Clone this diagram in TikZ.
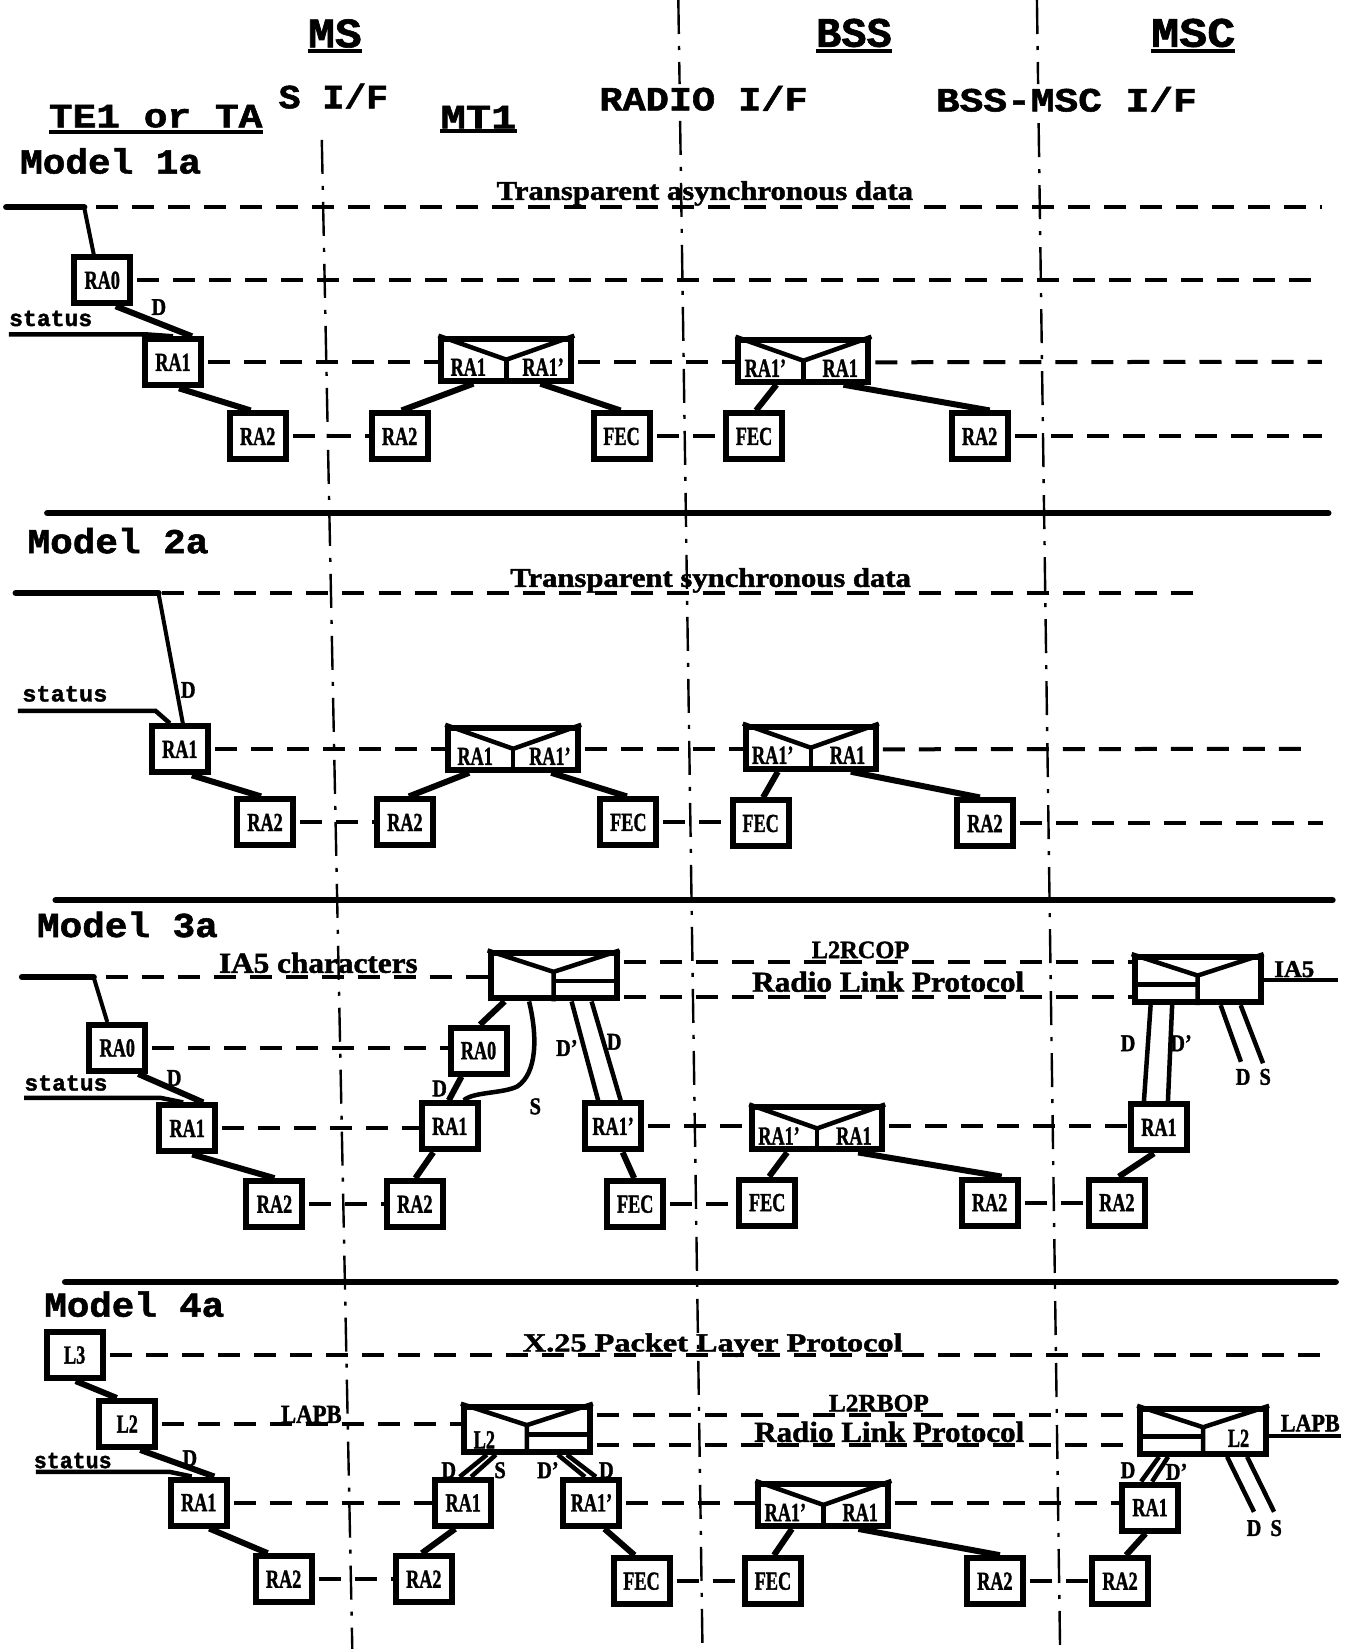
\documentclass[tikz,border=0pt]{standalone}
\usepackage{fontspec}
\usepackage{graphicx}
\setmainfont{Liberation Serif}[BoldFeatures={FakeBold=1.5}]
\newfontfamily\monof{Liberation Mono}[BoldFeatures={FakeBold=1.5}]
\usetikzlibrary{calc}
\newdimen\su \su=1.0516pt
\newcommand\mono[3]{\resizebox{#2\su}{\height}{\fontsize{#1}{#1}\selectfont\monof\bfseries #3}}
\newcommand\serb[3]{\resizebox{#2\su}{\height}{\fontsize{#1}{#1}\selectfont\bfseries #3}}
\newcommand\lbl[1]{\scalebox{0.7}[1]{\fontsize{26}{26}\selectfont\bfseries #1}}
\newcommand\sml[1]{\scalebox{0.85}[1]{\fontsize{24}{24}\selectfont\bfseries #1}}
\newcommand\bx[4]{\node[blk] (#1) at (#2,#3) {\lbl{#4}};}
\newcommand\mixb[5]{%
 \node[mbox] (#1) at (#2,#3) {};
 \draw[inl] (#1.north west) -- (#1.center) -- (#1.north east);
 \draw[inl] (#1.center) -- (#1.south);
 \node[anchor=base,inner sep=0pt] at ($(#1.south west)!0.22!(#1.south east)+(0,-7.5)$) {\lbl{#4}};
 \node[anchor=base,inner sep=0pt] at ($(#1.south west)!0.77!(#1.south east)+(0,-7.5)$) {\lbl{#5}};
}
\newcommand\topb[4]{%
 \node[tbox] (#1) at (#2,#3) {};
 \coordinate (#1v) at ($(#1.north)!0.42!(#1.south)$);
 \coordinate (#1h) at ($(#1.north)!0.6!(#1.south)$);
 \draw[inl] (#1.north west) -- (#1v) -- (#1.north east);
 \draw[inl] (#1v) -- (#1.south);
 \ifx r#4 \draw[inl] (#1h) -- (#1h -| #1.east); \else \draw[inl] (#1h) -- (#1h -| #1.west); \fi
}
\begin{document}
\begin{tikzpicture}[x=1.0516pt,y=-1.0516pt,
 blk/.style={draw,line width=6pt,minimum width=56pt,minimum height=46pt,inner sep=0pt,fill=white},
 mbox/.style={draw,line width=6pt,minimum width=130pt,minimum height=42pt,inner sep=0pt,fill=white},
 tbox/.style={draw,line width=6pt,minimum width=126pt,minimum height=45pt,inner sep=0pt,fill=white},
 inl/.style={line width=4.5pt},
 conn/.style={line width=6pt},
 wire/.style={line width=4.5pt},
 dsh/.style={line width=4pt,dash pattern=on 22pt off 14pt,dash phase=32pt},
 vl/.style={line width=2.4pt,dash pattern=on 34pt off 12pt on 4pt off 12pt},
 sep/.style={line width=6.5pt,line cap=round},
 ul/.style={line width=4pt},
 stl/.style={line width=4.5pt},
 tel/.style={line width=6.5pt,line cap=round},
 dl/.style={line width=4pt},
 lab/.style={inner sep=0pt}]
\fill[white] (0,0) rectangle (1278,1568);
\useasboundingbox (0,0) rectangle (1278,1568);

% interface lines
\draw[vl] (306,133) -- (335,1568);
\draw[vl] (645,0) -- (646.2,80);
\draw[vl] (646.7,115) -- (668,1568);
\draw[vl] (986,0) -- (987.1,80);
\draw[vl] (987.6,117) -- (1008,1568);

% separators
\draw[sep] (45,488) -- (1263,488);
\draw[sep] (53,856) -- (1267,856);
\draw[sep] (62,1219) -- (1270,1219);

% headings
\node[lab,anchor=base] (hms) at (318.5,45) {\mono{42}{51}{MS}};
\draw[ul] ([yshift=-4pt]hms.base west) -- ([yshift=-4pt]hms.base east);
\node[lab,anchor=base] (hbss) at (812,44.5) {\mono{42}{72}{BSS}};
\draw[ul] ([yshift=-4pt]hbss.base west) -- ([yshift=-4pt]hbss.base east);
\node[lab,anchor=base] (hmsc) at (1134.6,44.5) {\mono{42}{80}{MSC}};
\draw[ul] ([yshift=-4pt]hmsc.base west) -- ([yshift=-4pt]hmsc.base east);
\node[lab,anchor=base] (hsif) at (317,103) {\mono{34}{104}{S I/F}};
\node[lab,anchor=base] (hte) at (148,121) {\mono{34}{203}{TE1 or TA}};
\draw[ul] ([yshift=-5pt]hte.base west) -- ([yshift=-5pt]hte.base east);
\node[lab,anchor=base] (hmt) at (455,122) {\mono{34}{72}{MT1}};
\draw[ul] ([yshift=-3pt]hmt.base west) -- ([yshift=-3pt]hmt.base east);
\node[lab,anchor=base] (hrad) at (669,105) {\mono{34}{198}{RADIO I/F}};
\node[lab,anchor=base] (hbm) at (1014,106) {\mono{34}{248}{BSS-MSC I/F}};

\node[lab,anchor=base west] (m1) at (19,165) {\mono{35}{172}{Model 1a}};
\node[lab,anchor=base west] (m2) at (26,526) {\mono{35}{172}{Model 2a}};
\node[lab,anchor=base west] (m3) at (35,891) {\mono{35}{172}{Model 3a}};
\node[lab,anchor=base west] (m4) at (42,1252) {\mono{35}{171}{Model 4a}};

% ================= Model 1a =================
\bx{ra0a}{97.2}{266.5}{RA0}
\bx{ra1a}{164.5}{344.5}{RA1}
\bx{ra2a}{245}{415}{RA2}
\mixb{mxa}{481.5}{342}{RA1}{RA1'}
\bx{mra2a}{380}{415}{RA2}
\bx{mfeca}{591}{415}{FEC}
\mixb{bxa}{764}{343}{RA1'}{RA1}
\bx{bfeca}{717}{415}{FEC}
\bx{bra2a}{931.5}{415}{RA2}

\coordinate (t1a) at (6,197);
\coordinate (t1b) at (80,197);
\coordinate (s1a) at (8.5,318);
\coordinate (s1b) at (140,318);
\coordinate (e1A) at (1257,197);
\coordinate (e1B) at (1251,270);
\coordinate (e1C) at (1257,344);
\coordinate (e1D) at (1257,415);
\draw[tel] (t1a) -- (t1b);
\draw[dl] (t1b) -- ([xshift=-8.5pt]ra0a.north);
\draw[stl] (s1a) -- (s1b) -- (ra1a.north);
\draw[dsh,dash phase=24pt] (t1b) -- (e1A);
\draw[dsh] (ra0a.east) -- (ra0a.east -| e1B);
\draw[dsh] (ra1a.east) -- (ra1a.east -| mxa.west);
\draw[dsh] (mxa.east |- ra1a.east) -- (bxa.west |- ra1a.east);
\draw[dsh] (bxa.east |- ra1a.east) -- (e1C);
\draw[dsh] (ra2a.east) -- (mra2a.west);
\draw[dsh] (mfeca.east) -- (bfeca.west);
\draw[dsh] (bra2a.east) -- (e1D);
\draw[conn] ([xshift=13.5pt]ra0a.south) -- ([xshift=19pt]ra1a.north);
\draw[conn] ([xshift=6pt]ra1a.south) -- ([xshift=-7pt]ra2a.north);
\draw[conn] ([xshift=-33pt]mxa.south) -- ([xshift=2pt]mra2a.north);
\draw[conn] ([xshift=34pt]mxa.south) -- ([xshift=-1pt]mfeca.north);
\draw[conn] ([xshift=-27pt]bxa.south) -- ([xshift=2pt]bfeca.north);
\draw[conn] ([xshift=40pt]bxa.south) -- ([xshift=10pt]bra2a.north);
\node[lab,anchor=base west] (lt1) at (472,190) {\serb{27}{396}{Transparent asynchronous data}};
\node[lab] (d1a) at (151,292) {\sml{D}};
\node[lab,anchor=base west] (st1) at (8.5,310) {\mono{23}{79}{status}};

% ================= Model 2a =================
\bx{ra1b}{171}{712.5}{RA1}
\bx{ra2b}{252}{782}{RA2}
\mixb{mxb}{488}{712}{RA1}{RA1'}
\bx{mra2b}{385}{782}{RA2}
\bx{mfecb}{597.5}{782}{FEC}
\mixb{bxb}{771}{711}{RA1'}{RA1}
\bx{bfecb}{723.3}{783}{FEC}
\bx{bra2b}{936.5}{783}{RA2}

\coordinate (t2a) at (15,564);
\coordinate (t2b) at (150.7,564);
\coordinate (s2a) at (17,676);
\coordinate (s2b) at (148,676);
\coordinate (e2A) at (1144,564);
\coordinate (e2C) at (1249,712);
\coordinate (e2D) at (1258,783);
\draw[tel] (t2a) -- (t2b);
\draw[dl] (t2b) -- ([xshift=3pt]ra1b.north);
\draw[stl] (s2a) -- (s2b) -- ([xshift=-10pt]ra1b.north);
\draw[dsh] (t2b) -- (e2A);
\draw[dsh] (ra1b.east) -- (ra1b.east -| mxb.west);
\draw[dsh] (mxb.east |- ra1b.east) -- (bxb.west |- ra1b.east);
\draw[dsh] (bxb.east |- ra1b.east) -- (e2C);
\draw[dsh] (ra2b.east) -- (mra2b.west);
\draw[dsh] (mfecb.east) -- (bfecb.west |- mfecb.east);
\draw[dsh] (bra2b.east) -- (e2D);
\draw[conn] ([xshift=12pt]ra1b.south) -- ([xshift=-4pt]ra2b.north);
\draw[conn] ([xshift=-44pt]mxb.south) -- ([xshift=4pt]mra2b.north);
\draw[conn] ([xshift=38pt]mxb.south) -- ([xshift=-1.5pt]mfecb.north);
\draw[conn] ([xshift=-33pt]bxb.south) -- ([xshift=2.4pt]bfecb.north);
\draw[conn] ([xshift=40pt]bxb.south) -- ([xshift=-5pt]bra2b.north);
\node[lab,anchor=base west] (lt2) at (485,558) {\serb{27}{381}{Transparent synchronous data}};
\node[lab] (d2a) at (179,656) {\sml{D}};
\node[lab,anchor=base west] (st2) at (21,667) {\mono{23}{81}{status}};

% ================= Model 3a =================
\bx{ra0c}{111.5}{996.5}{RA0}
\bx{ra1c}{178}{1073}{RA1}
\bx{ra2c}{261}{1145}{RA2}
\topb{mtc}{526.4}{928}{r}
\bx{mra0c}{455}{999}{RA0}
\bx{mra1c}{427.7}{1071}{RA1}
\bx{mra2c}{394.5}{1145}{RA2}
\bx{mra1pc}{583}{1071}{RA1'}
\bx{mfecc}{604}{1145}{FEC}
\mixb{bxc}{777}{1073}{RA1'}{RA1}
\bx{bfecc}{729.5}{1143.5}{FEC}
\bx{bra2c}{941}{1143.5}{RA2}
\topb{stc}{1138.8}{931.5}{l}
\bx{sra1c}{1102}{1072}{RA1}
\bx{sra2c}{1062}{1143.5}{RA2}

\coordinate (t3a) at (21,929);
\coordinate (t3b) at (89,929);
\coordinate (s3a) at (23,1044);
\coordinate (s3b) at (153,1044);
\coordinate (u3) at (600,914.5);
\coordinate (w3) at (600,948);
\coordinate (i3) at (1272,932);
\coordinate (oD3) at (1180,1009.6);
\coordinate (oS3) at (1201,1011);
\draw[tel] (t3a) -- (t3b);
\draw[dl] (t3b) -- ([xshift=-10pt]ra0c.north);
\draw[stl] (s3a) -- (s3b) -- ([xshift=-4pt]ra1c.north);
\draw[dsh,dash phase=24pt] (t3b) -- (t3b -| mtc.west);
\draw[dsh] (ra0c.east) -- (ra0c.east -| mra0c.west);
\draw[dsh] (ra1c.east) -- (ra1c.east -| mra1c.west);
\draw[dsh] (mra1pc.east) -- (mra1pc.east -| bxc.west);
\draw[dsh] (bxc.east |- mra1pc.east) -- (sra1c.west |- mra1pc.east);
\draw[dsh] (ra2c.east) -- (mra2c.west);
\draw[dsh] (mfecc.east) -- (bfecc.west |- mfecc.east);
\draw[dsh] (bra2c.east) -- (sra2c.west |- bra2c.east);
\draw[dsh] (mtc.east |- u3) -- (stc.west |- u3);
\draw[dsh] (mtc.east |- w3) -- (stc.west |- w3);
\draw[ul] (stc.east |- i3) -- (i3);
\draw[conn] ([xshift=21pt]ra0c.south) -- ([xshift=16pt]ra1c.north);
\draw[conn] ([xshift=5pt]ra1c.south) -- (ra2c.north);
\draw[conn] ([xshift=-49pt]mtc.south) -- ([xshift=1.5pt]mra0c.north);
\draw[conn] ([xshift=-17pt]mra0c.south) -- ([xshift=-1pt]mra1c.north);
\draw[conn] ([xshift=-16.5pt]mra1c.south) -- ([xshift=0.5pt]mra2c.north);
\draw[wire] ([xshift=18pt]mtc.south) -- ([xshift=-15pt]mra1pc.north);
\draw[wire] ([xshift=38pt]mtc.south) -- ([xshift=7.5pt]mra1pc.north);
\draw[wire] ([xshift=-24.5pt]mtc.south) .. controls (511,985) and (511,1020) .. (492,1033) .. controls (478,1040) and (450,1038) .. ([xshift=14pt]mra1c.north);
\draw[conn] ([xshift=9.5pt]mra1pc.south) -- ([xshift=-1pt]mfecc.north);
\draw[conn] ([xshift=-30pt]bxc.south) -- ([xshift=2pt]bfecc.north);
\draw[conn] ([xshift=41pt]bxc.south) -- ([xshift=12pt]bra2c.north);
\draw[wire] ([xshift=-47pt]stc.south) -- ([xshift=-15pt]sra1c.north);
\draw[wire] ([xshift=-25.5pt]stc.south) -- ([xshift=9pt]sra1c.north);
\draw[wire] ([xshift=23pt]stc.south) -- (oD3);
\draw[wire] ([xshift=43pt]stc.south) -- (oS3);
\draw[conn] ([xshift=-5pt]sra1c.south) -- ([xshift=2pt]sra2c.north);
\node[lab,anchor=base west] (lia5) at (208,925) {\serb{29}{189}{IA5 characters}};
\node[lab,anchor=base west] (l2rc) at (771.7,911) {\serb{25}{92.7}{L2RCOP}};
\node[lab,anchor=base west] (rlp3) at (715,943) {\serb{29}{258.7}{Radio Link Protocol}};
\node[lab,anchor=base west] (ia5r) at (1211.5,929) {\serb{24}{38}{IA5}};
\node[lab] (d3a) at (165.6,1025) {\sml{D}};
\node[lab,anchor=base west] (st3) at (23,1037) {\mono{23}{79}{status}};
\node[lab] (d3b) at (418,1035) {\sml{D}};
\node[lab] (s3b) at (509,1052) {\sml{S}};
\node[lab] (d3c) at (539,996.5) {\sml{D'}};
\node[lab] (d3d) at (584,990.6) {\sml{D}};
\node[lab] (d3e) at (1072.6,992) {\sml{D}};
\node[lab] (d3f) at (1123,992) {\sml{D'}};
\node[lab] (d3g) at (1182,1024) {\sml{D}};
\node[lab] (s3g) at (1203,1024) {\sml{S}};

% ================= Model 4a =================
\bx{l3d}{71}{1288.5}{L3}
\bx{l2d}{121}{1354}{L2}
\bx{ra1d}{189}{1428.7}{RA1}
\bx{ra2d}{269.7}{1501.6}{RA2}
\topb{mtd}{501}{1359}{r}
\bx{mra1d}{440.4}{1429}{RA1}
\bx{mra2d}{403}{1501.6}{RA2}
\bx{mra1pd}{562.4}{1429}{RA1'}
\bx{mfecd}{610}{1503.5}{FEC}
\mixb{bxd}{783}{1431}{RA1'}{RA1}
\bx{bfecd}{735}{1503.5}{FEC}
\bx{bra2d}{946}{1503.5}{RA2}
\topb{std}{1144}{1361}{l}
\bx{sra1d}{1093.6}{1433.5}{RA1}
\bx{sra2d}{1065}{1503.5}{RA2}
\node[lab] (l2in1) at (460.6,1369) {\lbl{L2}};
\node[lab] (l2in2) at (1177.7,1367.6) {\lbl{L2}};

\coordinate (s4a) at (34,1399.5);
\coordinate (s4b) at (161,1399.5);
\coordinate (e4L3) at (1268,1289);
\coordinate (u4) at (600,1345.6);
\coordinate (w4) at (600,1374);
\coordinate (i4) at (1275,1365);
\coordinate (oD4) at (1192.4,1437.5);
\coordinate (oS4) at (1211.5,1437.5);
\draw[stl] (s4a) -- (s4b) -- ([xshift=-7pt]ra1d.north);
\draw[dsh] (l3d.east) -- (l3d.east -| e4L3);
\draw[dsh] (l2d.east) -- (l2d.east -| mtd.west);
\draw[dsh] (mtd.east |- u4) -- (std.west |- u4);
\draw[dsh] (mtd.east |- w4) -- (std.west |- w4);
\draw[ul] (std.east |- i4) -- (i4);
\draw[dsh] (ra1d.east) -- (ra1d.east -| mra1d.west);
\draw[dsh] (mra1pd.east) -- (mra1pd.east -| bxd.west);
\draw[dsh] (bxd.east |- mra1pd.east) -- (sra1d.west |- mra1pd.east);
\draw[dsh] (ra2d.east) -- (ra2d.east -| mra2d.west);
\draw[dsh] (mfecd.east) -- (mfecd.east -| bfecd.west);
\draw[dsh] (bra2d.east) -- (bra2d.east -| sra2d.west);
\draw[conn] ([xshift=1pt]l3d.south) -- ([xshift=-10.5pt]l2d.north);
\draw[conn] ([xshift=13pt]l2d.south) -- ([xshift=15.5pt]ra1d.north);
\draw[conn] ([xshift=10.5pt]ra1d.south) -- ([xshift=-16pt]ra2d.north);
\draw[wire] ([xshift=-40pt]mtd.south) -- ([xshift=-3.5pt]mra1d.north);
\draw[wire] ([xshift=-31pt]mtd.south) -- ([xshift=8pt]mra1d.north);
\draw[wire] ([xshift=31pt]mtd.south) -- ([xshift=-6.5pt]mra1pd.north);
\draw[wire] ([xshift=40pt]mtd.south) -- ([xshift=4.5pt]mra1pd.north);
\draw[conn] ([xshift=-8pt]mra1d.south) -- ([xshift=-2pt]mra2d.north);
\draw[conn] ([xshift=13pt]mra1pd.south) -- ([xshift=-7pt]mfecd.north);
\draw[conn] ([xshift=-31.5pt]bxd.south) -- ([xshift=1pt]bfecd.north);
\draw[conn] ([xshift=35pt]bxd.south) -- ([xshift=5pt]bra2d.north);
\draw[wire] ([xshift=-44pt]std.south) -- ([xshift=-9pt]sra1d.north);
\draw[wire] ([xshift=-35pt]std.south) -- ([xshift=2pt]sra1d.north);
\draw[wire] ([xshift=24pt]std.south) -- (oD4);
\draw[wire] ([xshift=44pt]std.south) -- (oS4);
\draw[conn] ([xshift=-4.5pt]sra1d.south) -- ([xshift=6pt]sra2d.north);
\node[lab,anchor=base west] (x25) at (497,1285) {\serb{26}{361}{X.25 Packet Layer Protocol}};
\node[lab,anchor=base west] (l2rb) at (788,1342) {\serb{25}{95}{L2RBOP}};
\node[lab,anchor=base west] (rlp4) at (717,1371) {\serb{29}{256.7}{Radio Link Protocol}};
\node[lab,anchor=base west] (lapbl) at (267,1353) {\serb{26}{57.7}{LAPB}};
\node[lab,anchor=base west] (lapbr) at (1217.7,1361) {\serb{25}{56}{LAPB}};
\node[lab] (d4a) at (180.5,1386.6) {\sml{D}};
\node[lab,anchor=base west] (st4) at (32,1396) {\mono{23}{74}{status}};
\node[lab] (d4b) at (426.7,1398) {\sml{D}};
\node[lab] (s4c) at (475.5,1398) {\sml{S}};
\node[lab] (d4c) at (521,1398) {\sml{D'}};
\node[lab] (d4d) at (576.6,1398) {\sml{D}};
\node[lab] (d4e) at (1072.6,1398) {\sml{D}};
\node[lab] (d4f) at (1118.8,1399.5) {\sml{D'}};
\node[lab] (d4g) at (1192.4,1453) {\sml{D}};
\node[lab] (s4g) at (1213.5,1453) {\sml{S}};
\end{tikzpicture}
\end{document}
